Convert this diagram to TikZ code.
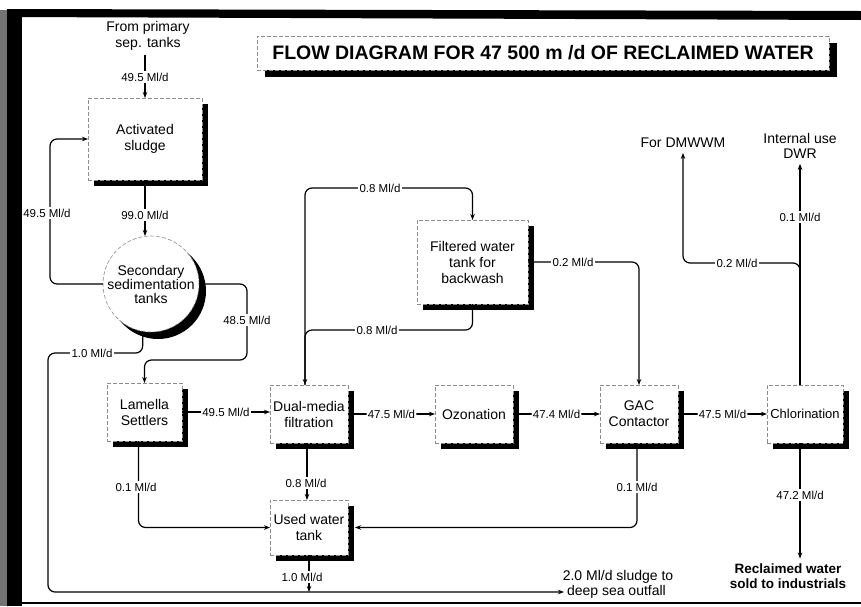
\documentclass[tikz,border=0pt]{standalone}
\usepackage{fontspec}
\setmainfont{Liberation Sans}
\usetikzlibrary{arrows.meta,shadows,calc}
\begin{document}
\begin{tikzpicture}[x=1pt,y=-1pt,
  boxbase/.style={draw=black!45, dash pattern=on 4pt off 2pt, line width=0.6pt, fill=white,
    align=center, inner sep=2pt, outer sep=0pt, font=\fontsize{14}{16}\selectfont},
  box/.style={boxbase, drop shadow={shadow xshift=6pt, shadow yshift=-6pt, opacity=1, fill=black}},
  titlebox/.style={boxbase, drop shadow={shadow xshift=8pt, shadow yshift=-7pt, opacity=1, fill=black},
    font=\fontsize{19.5}{22}\selectfont\bfseries},
  txt/.style={align=center, font=\fontsize{14}{15.5}\selectfont, inner sep=1pt, outer sep=4pt},
  lbl/.style={fill=white, inner sep=1.3pt, font=\fontsize{11.5}{13}\selectfont},
  flow/.style={line width=1.2pt, -{Stealth[length=6pt,width=4.5pt]}, rounded corners=7pt},
]
\fill[white] (0,0) rectangle (861,606);
\useasboundingbox (0,0) rectangle (861,606);
% frame of the scanned page
\fill[black!55] (0,10) rectangle (7,606);
\fill[black] (7,10) rectangle (22,606);
\fill[black] (7,9) -- (861,11) -- (861,20) -- (7,17) -- cycle;
\draw[line width=1.3pt] (7,603) -- (861,603);

% title
\node[titlebox, minimum width=572pt, minimum height=34pt] (title) at (543,53)
  {FLOW DIAGRAM FOR 47 500 m /d OF RECLAIMED WATER};

% process units
\node[box, minimum width=114pt, minimum height=82pt] (act) at (145,139) {Activated\\sludge};
\node[box, circle, minimum size=96pt, inner sep=0pt, font=\fontsize{14}{14}\selectfont,
  drop shadow={shadow xshift=7pt, shadow yshift=-7pt, opacity=1, fill=black}] (circ) at (151,284)
  {Secondary\\sedimentation\\tanks};
\node[box, minimum width=111pt, minimum height=84pt] (filt) at (472.5,262) {Filtered water\\tank for\\backwash};
\node[box, minimum width=75pt, minimum height=58pt] (lam) at (144.5,412) {Lamella\\Settlers};
\node[box, minimum width=78pt, minimum height=58pt] (dual) at (309,414) {Dual-media\\filtration};
\node[box, minimum width=78pt, minimum height=58pt] (ozo) at (474,414) {Ozonation};
\node[box, minimum width=78pt, minimum height=58pt] (gac) at (639,414) {GAC\\Contactor};
\node[box, minimum width=76pt, minimum height=58pt, inner sep=0pt, font=\fontsize{13}{15}\selectfont] (chl) at (805,414) {Chlorination};
\node[box, minimum width=78pt, minimum height=55pt] (used) at (309,527.5) {Used water\\tank};

% free texts
\node[txt] (src) at (148,36) {From primary\\sep. tanks};
\node[txt] (dmw) at (683,143) {For DMWWM};
\node[txt] (dwr) at (800,146) {Internal use\\DWR};
\node[txt, font=\fontsize{13.5}{15}\selectfont\bfseries] (recl) at (788,576) {Reclaimed water\\sold to industrials};
\node[txt, outer sep=0pt] (out1) at (618,577) {2.0 Ml/d sludge to};
\node[txt, anchor=west, outer sep=2pt] (out2) at (564,592) {deep sea outfall};

% connectors
\coordinate (dtop) at ($(dual.north)+(-4,0)$);
\coordinate (ctop) at ($(chl.north)+(-5,0)$);
\coordinate (cbot) at ($(chl.south)+(-5,0)$);

\draw[flow] (act.north |- src.south) -- (act.north);
\draw[flow] (act.south) -- (act.south |- circ.north);
\draw[flow] (circ.west) -- ++(-53,0) |- (act.west);
\draw[flow] (circ.east) -| (247,360) -| (lam.north);
\draw[flow] (circ.260) |- (48,353) |- (out2.west);
\draw[flow] (lam.east) -- node[lbl] (l6) {49.5 Ml/d} (lam.east -| dual.west);
\draw[flow] (dual.east) -- node[lbl] (l7) {47.5 Ml/d} (ozo.west);
\draw[flow] (ozo.east) -- node[lbl] (l8) {47.4 Ml/d} (gac.west);
\draw[flow] (gac.east) -- node[lbl] (l9) {47.5 Ml/d} (chl.west);
\draw[flow] (dtop) -- (dtop |- 0,188) -| (filt.north);
\draw[flow] (filt.south) |- (dtop |- 0,330) -- (dtop);
\draw[flow] (filt.east) -| (gac.north);
\draw[flow] (ctop) -- (ctop |- dwr.south);
\draw[flow] (ctop) -- (ctop |- 0,263) -| (dmw.south);
\draw[flow] (cbot) -- (cbot |- recl.north);
\draw[flow] ($(lam.south)+(-6,0)$) |- (used.west);
\draw[flow] ($(dual.south)+(-2,0)$) -- ($(used.north)+(-2,0)$);
\draw[flow] ($(gac.south)+(-2,0)$) |- ($(used.east)+(7,0)$);
\draw[flow] (used.south) -- (used.south |- out2.west);

% flow labels
\node[lbl] (l1) at (145,77) {49.5 Ml/d};
\node[lbl] (l2) at (145,215) {99.0 Ml/d};
\node[lbl] (l3) at (47,213) {49.5 Ml/d};
\node[lbl] (l4) at (247,320) {48.5 Ml/d};
\node[lbl] (l5) at (92,353) {1.0 Ml/d};
\node[lbl] (l10) at (380,188) {0.8 Ml/d};
\node[lbl] (l11) at (377,330) {0.8 Ml/d};
\node[lbl] (l12) at (573,262) {0.2 Ml/d};
\node[lbl] (l13) at (800,217) {0.1 Ml/d};
\node[lbl] (l14) at (737,263) {0.2 Ml/d};
\node[lbl] (l15) at (800,495) {47.2 Ml/d};
\node[lbl] (l16) at (136,487) {0.1 Ml/d};
\node[lbl] (l17) at (306,483) {0.8 Ml/d};
\node[lbl] (l18) at (637,487) {0.1 Ml/d};
\node[lbl] (l19) at (302,577) {1.0 Ml/d};
\end{tikzpicture}
\end{document}
